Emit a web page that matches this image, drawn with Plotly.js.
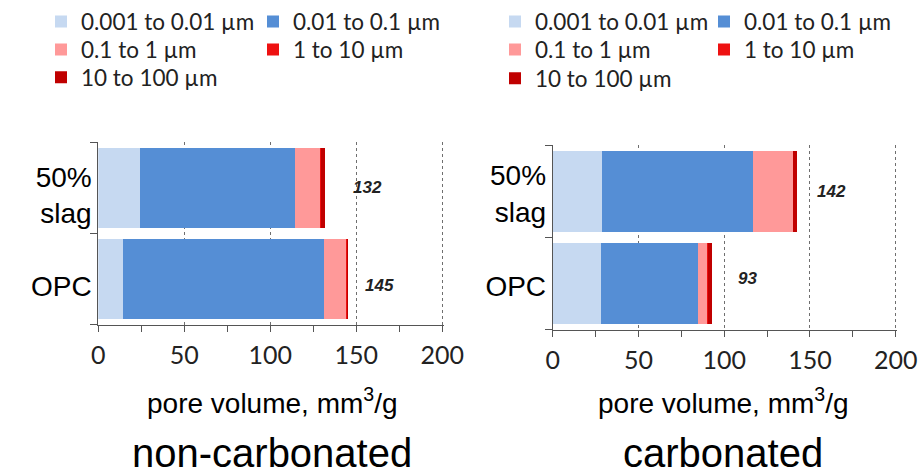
<!DOCTYPE html>
<html>
<head>
<meta charset="utf-8">
<script src="https://cdn.plot.ly/plotly-3.0.1.min.js"></script>
<style>
  html, body { margin: 0; padding: 0; background: #ffffff; }
  #chart { width: 920px; height: 476px; }
</style>
</head>
<body>
<div id="chart"></div>
<script>
// ---- data ----
const categories = ["OPC", "50% slag"];
const categoryLabels = ["OPC", "50%<br>slag"];
const seriesNames = ["0.001 to 0.01 µm", "0.01 to 0.1 µm", "0.1 to 1 µm", "1 to 10 µm", "10 to 100 µm"];

// non-carbonated pore volume per size class (mm3/g), order matches categories
const nonCarb_001_01 = [14.5, 24.0];
const nonCarb_01_1   = [116.5, 90.5];
const nonCarb_1_10   = [13.0, 14.5];
const nonCarb_10_100 = [0.3, 0.5];
const nonCarb_100    = [0.9, 2.5];
const nonCarbTotals  = [145, 132];

// carbonated pore volume per size class (mm3/g)
const carb_001_01 = [28.0, 28.5];
const carb_01_1   = [56.5, 88.0];
const carb_1_10   = [5.7, 23.5];
const carb_10_100 = [0.3, 0.3];
const carb_100    = [2.5, 2.0];
const carbTotals  = [93, 142];

const xTickVals = [0, 50, 100, 150, 200];

// ---- styles ----
const colors = ["#c6d9f1", "#558ed5", "#ff9999", "#ee1111", "#c00000"];
const nonCarbSeries = [nonCarb_001_01, nonCarb_01_1, nonCarb_1_10, nonCarb_10_100, nonCarb_100];
const carbSeries = [carb_001_01, carb_01_1, carb_1_10, carb_10_100, carb_100];
const legendRowOf = [0, 0, 1, 1, 2];

const traces = [];
nonCarbSeries.forEach((vals, i) => {
  traces.push({
    type: "bar", orientation: "h", name: seriesNames[i],
    x: vals, y: categories, xaxis: "x", yaxis: "y",
    marker: { color: colors[i], line: { width: 0 } },
    legend: legendRowOf[i] === 0 ? "legend" : "legend" + (legendRowOf[i] + 1),
    hoverinfo: "skip"
  });
});
carbSeries.forEach((vals, i) => {
  traces.push({
    type: "bar", orientation: "h", name: seriesNames[i],
    x: vals, y: categories, xaxis: "x2", yaxis: "y2",
    marker: { color: colors[i], line: { width: 0 } },
    legend: "legend" + (legendRowOf[i] + 4),
    hoverinfo: "skip"
  });
});

const W = 920, H = 476;
const px = v => v / W;
const py = v => 1 - v / H;
const X_MAX = 201;

function xAxis(x0, pxPerUnit) {
  return {
    domain: [px(x0), px(x0 + pxPerUnit * X_MAX)], range: [0, X_MAX],
    tickmode: "array", tickvals: xTickVals,
    ticks: "outside", ticklen: 6, tickcolor: "#555", tickwidth: 1,
    showline: true, linecolor: "#555", linewidth: 1,
    showgrid: true, gridcolor: "#6f6f6f", griddash: "dot", gridwidth: 1,
    zeroline: false, fixedrange: true, automargin: false, ticklabelstandoff: 2,
    minor: { tickvals: [25, 75, 125, 175], ticks: "outside", ticklen: 6, tickcolor: "#555", showgrid: false },
    tickfont: { family: "Lato, 'Open Sans', sans-serif", size: 25, color: "#222" }
  };
}
function yAxis(domain, anchor, shift) {
  return {
    domain: domain, anchor: anchor, type: "category",
    categoryorder: "array", categoryarray: categories,
    tickmode: "array", tickvals: categories, ticktext: categoryLabels,
    tickson: "boundaries", ticks: "outside", ticklen: 7, tickcolor: "#555",
    showline: true, linecolor: "#555", linewidth: 1, showgrid: false,
    zeroline: false, fixedrange: true, automargin: false, ticklabelshift: shift,
    tickfont: { family: "'Liberation Sans', Arial, sans-serif", size: 28, color: "#000" }
  };
}

function legendRow(x, yPx, entry) {
  return {
    orientation: "h", x: x, xanchor: "left", y: py(yPx), yanchor: "middle",
    entrywidth: entry, entrywidthmode: "pixels", traceorder: "normal",
    bgcolor: "rgba(0,0,0,0)", borderwidth: 0, itemclick: false, itemdoubleclick: false,
    font: { family: "Lato, 'Open Sans', sans-serif", size: 22.5, color: "#222" }
  };
}

const valueFont = { family: "'Liberation Sans', Arial, sans-serif", size: 17, color: "#222", weight: "bold", style: "italic" };
const labelShifts = {
  x:  [[15, -6], [26, 0]],   // non-carbonated: [xshift, yshift] for OPC, 50% slag
  x2: [[24, 5], [19, 0]]     // carbonated
};
const annotations = [];
[["x", "y", nonCarbTotals], ["x2", "y2", carbTotals]].forEach(([xa, ya, totals]) => {
  totals.forEach((t, i) => {
    annotations.push({
      xref: xa, yref: ya, x: t, y: categories[i], text: String(t),
      showarrow: false, xanchor: "left", yanchor: "middle",
      xshift: labelShifts[xa][i][0], yshift: labelShifts[xa][i][1], font: valueFont
    });
  });
});
const axisTitleFont = { family: "'Liberation Sans', Arial, sans-serif", size: 28, color: "#000" };
const panelFont = { family: "'Liberation Sans', Arial, sans-serif", size: 40, color: "#000" };
annotations.push(
  { xref: "paper", yref: "paper", x: px(272.5), y: py(401), text: "pore volume, mm<sup>3</sup>/g", showarrow: false, xanchor: "center", yanchor: "middle", font: axisTitleFont },
  { xref: "paper", yref: "paper", x: px(723), y: py(401), text: "pore volume, mm<sup>3</sup>/g", showarrow: false, xanchor: "center", yanchor: "middle", font: axisTitleFont },
  { xref: "paper", yref: "paper", x: px(271.5), y: 0, text: "non-carbonated", showarrow: false, xanchor: "center", yanchor: "bottom", borderpad: 0, font: panelFont },
  { xref: "paper", yref: "paper", x: px(722.5), y: 0, text: "carbonated", showarrow: false, xanchor: "center", yanchor: "bottom", borderpad: 0, font: panelFont }
);

const layout = {
  width: W, height: H,
  margin: { l: 0, r: 0, t: 0, b: 0 },
  paper_bgcolor: "#ffffff", plot_bgcolor: "rgba(0,0,0,0)",
  barmode: "stack", bargap: 0.126,
  showlegend: true,
  xaxis: Object.assign(xAxis(98.3, 1.72), { anchor: "y" }),
  yaxis: yAxis([py(324), py(141)], "x", 7),
  xaxis2: Object.assign(xAxis(552.7, 1.715), { anchor: "y2" }),
  yaxis2: yAxis([py(329.3), py(144)], "x2", 2),
  legend:  legendRow(px(41), 20, 167),
  legend2: legendRow(px(41), 48, 167),
  legend3: legendRow(px(41), 76, 167),
  legend4: legendRow(px(495), 20, 164),
  legend5: legendRow(px(495), 48, 164),
  legend6: legendRow(px(495), 77, 164),
  annotations: annotations,
  font: { family: "'Liberation Sans', Arial, sans-serif" }
};

Plotly.newPlot("chart", traces, layout, { displayModeBar: false, staticPlot: true });
</script>
</body>
</html>
